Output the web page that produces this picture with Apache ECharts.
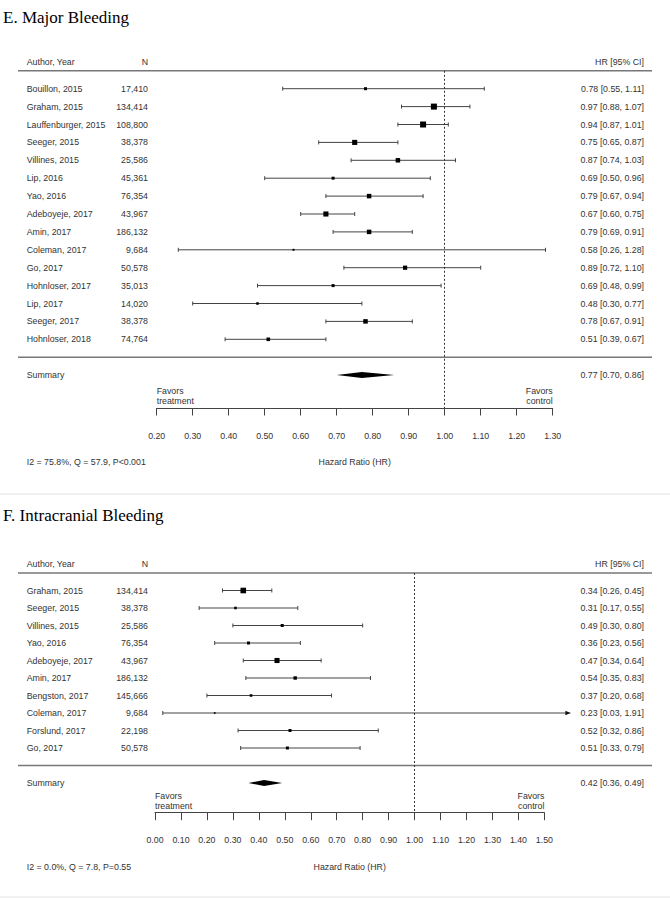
<!DOCTYPE html>
<html><head><meta charset="utf-8">
<script src="https://cdn.jsdelivr.net/npm/echarts@6/dist/echarts.min.js"></script>
<style>html,body{margin:0;padding:0;background:#fff}#c{width:670px;height:900px}</style>
</head><body><div id="c"></div>
<script>
// ---------- DATA ----------
// Panel E: Major Bleeding
const titleE = 'E. Major Bleeding';
const authorsE = ['Bouillon, 2015','Graham, 2015','Lauffenburger, 2015','Seeger, 2015','Villines, 2015','Lip, 2016','Yao, 2016','Adeboyeje, 2017','Amin, 2017','Coleman, 2017','Go, 2017','Hohnloser, 2017','Lip, 2017','Seeger, 2017','Hohnloser, 2018'];
const nE  = [17410,134414,108800,38378,25586,45361,76354,43967,186132,9684,50578,35013,14020,38378,74764];
const hrE = [0.78,0.97,0.94,0.75,0.87,0.69,0.79,0.67,0.79,0.58,0.89,0.69,0.48,0.78,0.51];
const loE = [0.55,0.88,0.87,0.65,0.74,0.50,0.67,0.60,0.69,0.26,0.72,0.48,0.30,0.67,0.39];
const hiE = [1.11,1.07,1.01,0.87,1.03,0.96,0.94,0.75,0.91,1.28,1.10,0.99,0.77,0.91,0.67];
const weightE = [5,10,10,8.5,7.5,5,7.5,8.5,7.5,3.3,7,5,4.2,7.5,6]; // estimated relative weights (%)
const summaryE = [0.77, 0.70, 0.86];
const statsE = 'I2 = 75.8%, Q = 57.9, P<0.001';
const axisE = [0.2, 1.3, 0.1]; // min, max, interval of tick labels
const clipE = [0.2, 1.3];

// Panel F: Intracranial Bleeding
const titleF = 'F. Intracranial Bleeding';
const authorsF = ['Graham, 2015','Seeger, 2015','Villines, 2015','Yao, 2016','Adeboyeje, 2017','Amin, 2017','Bengston, 2017','Coleman, 2017','Forslund, 2017','Go, 2017'];
const nF  = [134414,38378,25586,76354,43967,186132,145666,9684,22198,50578];
const hrF = [0.34,0.31,0.49,0.36,0.47,0.54,0.37,0.23,0.52,0.51];
const loF = [0.26,0.17,0.30,0.23,0.34,0.35,0.20,0.03,0.32,0.33];
const hiF = [0.45,0.55,0.80,0.56,0.64,0.83,0.68,1.91,0.86,0.79];
const weightF = [9.3,4.3,5,5,8.5,5.7,4.3,2.8,5,5];
const summaryF = [0.42, 0.36, 0.49];
const statsF = 'I2 = 0.0%, Q = 7.8, P=0.55';
const axisF = [0, 1.5, 0.1];
const clipF = [0, 1.6];

const headers = ['Author, Year', 'N', 'HR [95% CI]'];
const axisTitle = 'Hazard Ratio (HR)';
const favorsLeft = 'Favors\ntreatment', favorsRight = 'Favors\ncontrol';

// ---------- STYLE / LAYOUT ----------
const SANS = '"Liberation Sans", Arial, sans-serif';
const SERIF = '"Liberation Serif", "Times New Roman", serif';
const FS = 8.8;
const TXT = '#333', LINE = '#444', RULE = '#777';
const COL = { author: 26.7, n: 148, hr: 644, ruleL: 18, ruleR: 652 };

const panels = [
  { title: titleE, titleY: 17, authors: authorsE, n: nE, hr: hrE, lo: loE, hi: hiE, w: weightE,
    sum: summaryE, stats: statsE, ax: axisE, clip: clipE,
    top: 70.8, rowH: 17.9, axisY: 408, left: 156.7, right: 552.7 },
  { title: titleF, titleY: 515, authors: authorsF, n: nF, hr: hrF, lo: loF, hi: hiF, w: weightF,
    sum: summaryF, stats: statsF, ax: axisF, clip: clipF,
    top: 573, rowH: 17.5, axisY: 812.7, left: 155, right: 544.4 }
];

const fmt = v => v.toFixed(2);
const grids = [], xAxes = [], yAxes = [], series = [], graphics = [];

function txt(x, y, text, align, extra) {
  return Object.assign({ type: 'text', x: x, y: y, silent: true,
    style: { text: text, fill: TXT, font: FS + 'px ' + SANS, align: align || 'left', verticalAlign: 'middle',
             textAlign: align || 'left', textVerticalAlign: 'middle', lineHeight: 10 } }, extra || {});
}
function hline(x1, x2, y, color, width) {
  return { type: 'line', silent: true, shape: { x1: x1, y1: y, x2: x2, y2: y }, style: { stroke: color, lineWidth: width } };
}

panels.forEach((P, gi) => {
  const nRows = P.authors.length;
  const yMax = (P.axisY - P.top) / P.rowH - 1;
  grids.push({ left: P.left, width: P.right - P.left, top: P.top, height: P.axisY - P.top, containLabel: false });
  xAxes.push({ type: 'value', gridIndex: gi, min: P.ax[0], max: P.ax[1], interval: P.ax[2], position: 'bottom',
    axisLine: { show: true, onZero: false, lineStyle: { color: LINE, width: 1 } },
    axisTick: { show: true, length: 7.5, lineStyle: { color: LINE, width: 1 } },
    axisLabel: { margin: 23, formatter: fmt, color: TXT, fontSize: FS, fontFamily: SANS, showMinLabel: true, showMaxLabel: true },
    splitLine: { show: false } });
  yAxes.push({ type: 'value', gridIndex: gi, inverse: true, min: -1, max: yMax, show: false,
    axisLine: { onZero: false }, splitLine: { show: false } });

  // study rows
  series.push({
    type: 'custom', xAxisIndex: gi, yAxisIndex: gi, clip: false, silent: true,
    data: P.authors.map((a, i) => [i, P.hr[i], P.lo[i], P.hi[i], P.w[i]]),
    renderItem: function (params, api) {
      const i = api.value(0), hr = api.value(1), lo = api.value(2), hi = api.value(3), w = api.value(4);
      const a = api.coord([Math.max(lo, P.clip[0]), i]);
      const b = api.coord([Math.min(hi, P.clip[1]), i]);
      const c = api.coord([hr, i]);
      const y = c[1], s = w * 0.6;
      const ls = { stroke: LINE, lineWidth: 1 };
      const kids = [
        { type: 'line', shape: { x1: a[0], y1: y, x2: b[0], y2: y }, style: ls },
        { type: 'line', shape: { x1: a[0], y1: y - 2, x2: a[0], y2: y + 2 }, style: ls }
      ];
      if (hi > P.clip[1]) {
        kids.push({ type: 'polygon', shape: { points: [[b[0], y], [b[0] - 5, y - 2.3], [b[0] - 5, y + 2.3]] }, style: { fill: '#111' } });
      } else {
        kids.push({ type: 'line', shape: { x1: b[0], y1: y - 2, x2: b[0], y2: y + 2 }, style: ls });
      }
      kids.push({ type: 'rect', shape: { x: c[0] - s / 2, y: y - s / 2, width: s, height: s }, style: { fill: '#000' } });
      const idx = params.dataIndex;
      kids.push(txt(COL.author, y, P.authors[idx], 'left'));
      kids.push(txt(COL.n, y, P.n[idx].toLocaleString('en-US'), 'right'));
      kids.push(txt(COL.hr, y, fmt(hr) + ' [' + fmt(lo) + ', ' + fmt(hi) + ']', 'right'));
      return { type: 'group', children: kids };
    },
    markLine: { silent: true, symbol: 'none', animation: false,
      data: [{ xAxis: 1 }], label: { show: false },
      lineStyle: { type: [2, 2], color: '#333', width: 1 } }
  });

  // summary diamond
  series.push({
    type: 'custom', xAxisIndex: gi, yAxisIndex: gi, clip: false, silent: true,
    data: [[nRows + 1, P.sum[0], P.sum[1], P.sum[2]]],
    renderItem: function (params, api) {
      const r = api.value(0);
      const c = api.coord([api.value(1), r]), l = api.coord([api.value(2), r]), h = api.coord([api.value(3), r]);
      const y = c[1];
      return { type: 'group', children: [
        { type: 'polygon', shape: { points: [[l[0], y], [c[0], y - 3], [h[0], y], [c[0], y + 3]] }, style: { fill: '#000' } },
        txt(COL.author, y, 'Summary', 'left'),
        txt(COL.hr, y, fmt(api.value(1)) + ' [' + fmt(api.value(2)) + ', ' + fmt(api.value(3)) + ']', 'right')
      ] };
    }
  });

  // decorations
  const sepY = P.top + (nRows + 1) * P.rowH;
  graphics.push({ type: 'text', x: 3, y: P.titleY, silent: true,
    style: { text: P.title, fill: '#000', font: '17px ' + SERIF, align: 'left', verticalAlign: 'middle', textAlign: 'left', textVerticalAlign: 'middle' } });
  graphics.push(txt(COL.author, P.top - 9.3, headers[0], 'left'));
  graphics.push(txt(COL.n, P.top - 9.3, headers[1], 'right'));
  graphics.push(txt(COL.hr, P.top - 9.3, headers[2], 'right'));
  graphics.push(hline(COL.ruleL, COL.ruleR, P.top, RULE, 1.5));
  graphics.push(hline(COL.ruleL, COL.ruleR, sepY, RULE, 1.5));
  graphics.push(txt(P.left, P.axisY - 12, favorsLeft, 'left'));
  graphics.push(txt(P.right, P.axisY - 12, favorsRight, 'right'));
  graphics.push(txt(COL.author, P.axisY + 54, P.stats, 'left'));
  graphics.push(txt((P.left + P.right) / 2, P.axisY + 54, axisTitle, 'center'));
});
graphics.push(hline(0, 670, 494, '#e3e3e3', 1.2));
graphics.push(hline(0, 670, 897, '#e3e3e3', 1.2));

const chart = echarts.init(document.getElementById('c'), null, { renderer: 'svg' });
chart.setOption({
  animation: false,
  backgroundColor: '#fff',
  grid: grids, xAxis: xAxes, yAxis: yAxes, series: series,
  graphic: { elements: graphics }
});
</script></body></html>
